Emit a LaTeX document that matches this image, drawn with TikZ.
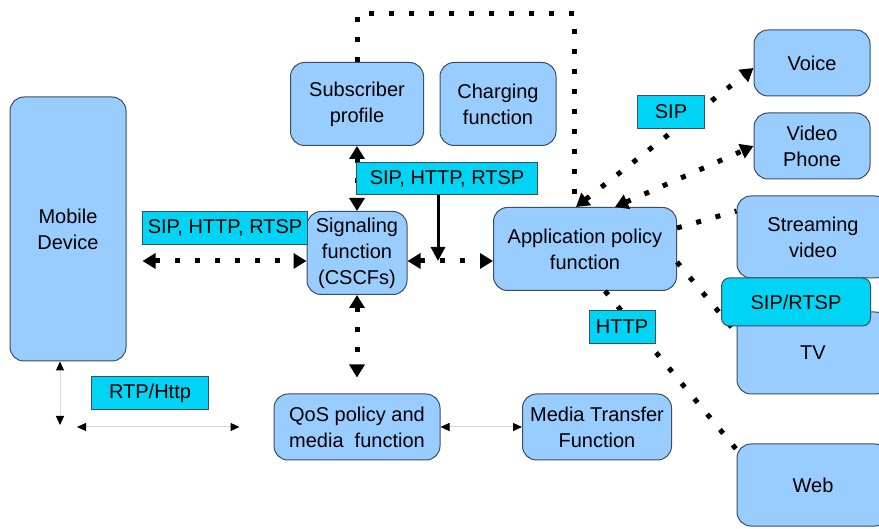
\documentclass[tikz,border=0pt]{standalone}
\usepackage{fontspec}
\setmainfont{Liberation Sans}
\usetikzlibrary{arrows.meta}

\definecolor{boxfill}{RGB}{153,204,255}
\definecolor{boxline}{RGB}{60,78,98}
\definecolor{tagcyan}{RGB}{0,212,245}

\tikzset{
  block/.style={draw=boxline, fill=boxfill, rounded corners=14pt, line width=1pt,
    align=center, inner sep=0pt, font=\fontsize{20}{26}\selectfont},
  tag/.style={draw=boxline, fill=tagcyan, line width=1pt, inner sep=0pt,
    font=\fontsize{20}{24}\selectfont},
  sigline/.style={line width=5pt, dash pattern=on 5pt off 15pt},
  bigtip/.style={{Triangle[length=13pt,width=15pt]}-{Triangle[length=13pt,width=15pt]}},
  thinline/.style={draw=black!15, line width=1pt,
    {Triangle[length=9pt,width=8pt,color=black]}-{Triangle[length=9pt,width=8pt,color=black]}}
}

\begin{document}
\begin{tikzpicture}[x=1pt,y=-1pt]
  \fill[white] (0,0) rectangle (879,529);
  \useasboundingbox (0,0) rectangle (879,529);

  % boxes
  \node[block, minimum width=116pt, minimum height=264pt] (mobile)     at (68,229)  {Mobile\\Device};
  \node[block, minimum width=133pt, minimum height=83pt]  (subscriber) at (357,104) {Subscriber\\profile};
  \node[block, minimum width=116pt, minimum height=83pt]  (charging)   at (498,104) {Charging\\function};
  \node[block, minimum width=100pt, minimum height=83pt]  (signaling)  at (357,253) {Signaling\\function\\(CSCFs)};
  \node[block, minimum width=183pt, minimum height=83pt]  (apppolicy)  at (585,249) {Application policy\\function};
  \node[block, minimum width=166pt, minimum height=66pt]  (qos)        at (357,427) {QoS policy and\\media\ \ function};
  \node[block, minimum width=149pt, minimum height=66pt]  (media)      at (597,427) {Media Transfer\\Function};
  \node[block, minimum width=116pt, minimum height=66pt]  (voice)      at (812,63)  {Voice};
  \node[block, minimum width=116pt, minimum height=66pt]  (videophone) at (812,146) {Video\\Phone};
  \node[block, minimum width=152pt, minimum height=82pt]  (streaming)  at (813,237) {Streaming\\video};
  \node[block, minimum width=152pt, minimum height=82pt]  (tv)         at (813,353) {TV};
  \node[block, minimum width=152pt, minimum height=82pt]  (web)        at (813,485) {Web};

  \coordinate (topcorner) at (574,14);
  \coordinate (junction)  at (438,261);
  \coordinate (corner)    at (60,427);

  % signalling paths
  \draw[sigline, bigtip, shorten <=16pt] ([yshift=-32pt]mobile.east) -- ([yshift=-8pt]signaling.west);
  \draw[sigline, bigtip] (subscriber.south) -- (signaling.north);
  \draw[sigline, bigtip, shorten >=16pt] (signaling.south) -- (qos.north);
  \draw[sigline, bigtip] ([yshift=-8pt]signaling.east) -- ([yshift=-12pt]apppolicy.west);
  \draw[sigline] (subscriber.north) |- (topcorner) -- (topcorner |- apppolicy.north);
  \draw[sigline, bigtip] ([xshift=-9pt]apppolicy.north) -- ([yshift=-5pt]voice.west);
  \draw[sigline, bigtip] ([xshift=30pt]apppolicy.north) -- (videophone.west);
  \draw[sigline] ([yshift=21pt]apppolicy.east) -- ([yshift=26pt]streaming.west);
  \draw[sigline] ([yshift=-13pt]apppolicy.east) -- ([yshift=20pt]tv.west);
  \draw[sigline] ([xshift=20pt]apppolicy.south) -- ([yshift=-6pt]web.north west);

  % media paths
  \draw[thinline, shorten >=2pt] ([xshift=-8pt]mobile.south) -- (corner);
  \draw[thinline, shorten <=17pt, shorten >=34pt] (corner) -- (qos.west);
  \draw[thinline] (qos.east) -- (media.west);

  % protocol tags
  \node[tag, minimum width=165pt, minimum height=33pt] (lblleft) at (225,228) {SIP, HTTP, RTSP};
  \node[tag, minimum width=181pt, minimum height=32pt] (lbltop)  at (447,179) {SIP, HTTP, RTSP};
  \node[tag, minimum width=67pt,  minimum height=33pt] (lblsip)  at (671,112) {SIP};
  \node[tag, minimum width=66pt,  minimum height=33pt] (lblhttp) at (622,327) {HTTP};
  \node[tag, minimum width=117pt, minimum height=33pt] (lblrtp)  at (150,393) {RTP/Http};
  \node[tag, rounded corners=8pt, minimum width=149pt, minimum height=48pt] (lblsiprtsp) at (796,302) {SIP/RTSP};

  \draw[line width=3pt, -{Triangle[length=14pt,width=14pt]}] (lbltop.south -| junction) -- (junction);
\end{tikzpicture}
\end{document}
